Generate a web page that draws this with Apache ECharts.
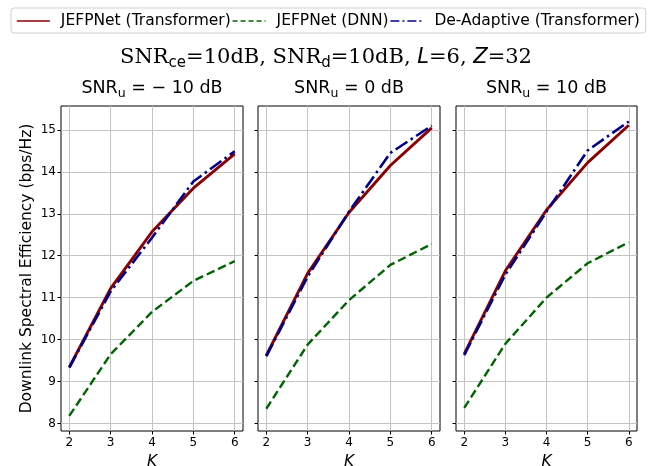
<!DOCTYPE html>
<html>
<head>
<meta charset="utf-8">
<script src="https://cdn.jsdelivr.net/npm/echarts@6/dist/echarts.min.js"></script>
<style>html,body{margin:0;padding:0;background:#fff;}#c{width:652px;height:466px;}</style>
</head>
<body>
<div id="c"></div>
<script>
var K = [2, 3, 4, 5, 6];
var xTicks = [2, 3, 4, 5, 6];
var yTicks = [8, 9, 10, 11, 12, 13, 14, 15];
var seriesNames = ['JEFPNet (Transformer)', 'JEFPNet (DNN)', 'De-Adaptive (Transformer)'];
var panelTitles = ['− 10', '0', '10'];

// Panel 1: SNR_u = -10 dB
var p1Trans = [9.34, 11.22, 12.57, 13.61, 14.43];
var p1Dnn   = [8.18, 9.65, 10.66, 11.40, 11.87];
var p1DeAd  = [9.33, 11.15, 12.43, 13.77, 14.49];
// Panel 2: SNR_u = 0 dB
var p2Trans = [9.62, 11.58, 13.03, 14.15, 15.05];
var p2Dnn   = [8.35, 9.88, 10.94, 11.78, 12.28];
var p2DeAd  = [9.60, 11.50, 13.05, 14.45, 15.10];
// Panel 3: SNR_u = 10 dB
var p3Trans = [9.66, 11.64, 13.09, 14.22, 15.11];
var p3Dnn   = [8.37, 9.90, 11.00, 11.82, 12.32];
var p3DeAd  = [9.63, 11.55, 13.05, 14.51, 15.20];

var panels = [[p1Trans, p1Dnn, p1DeAd], [p2Trans, p2Dnn, p2DeAd], [p3Trans, p3Dnn, p3DeAd]];

var gridLefts = [61, 258, 456];
var gridWidths = [182, 182, 181];
var styles = [
  {color: '#8b0000', width: 2.9, type: 'solid', legendType: 'solid'},
  {color: '#006400', width: 2.4, type: [8.5, 4], legendType: [5, 3]},
  {color: '#00008b', width: 2.6, type: [14, 4, 2.5, 4], legendType: [9, 3, 2, 3]}
];

var FONT = 'DejaVu Sans';
var grids = [], xAxes = [], yAxes = [], series = [], titles = [];

titles.push({
  left: 'center', top: 44, padding: 0,
  text: '{a|SNR}{s|ce}{a|=10dB, SNR}{s|d}{a|=10dB, }{i|L}{a|=6, }{i|Z}{a|=32}',
  textStyle: {
    fontWeight: 'normal',
    rich: {
      a: {fontFamily: 'DejaVu Serif', fontSize: 21, fontWeight: 'normal', color: '#000', lineHeight: 26},
      i: {fontFamily: FONT, fontStyle: 'italic', fontWeight: 'normal', fontSize: 21, color: '#000', lineHeight: 26},
      s: {fontFamily: FONT, fontSize: 15, fontWeight: 'normal', color: '#000', verticalAlign: 'bottom', lineHeight: 27}
    }
  }
});

for (var p = 0; p < 3; p++) {
  grids.push({left: gridLefts[p], top: 106, width: gridWidths[p], height: 325,
    containLabel: false, outerBoundsMode: 'none',
    show: true, borderColor: '#000', borderWidth: 1, backgroundColor: 'transparent'});
  titles.push({
    left: gridLefts[p] + gridWidths[p] / 2, textAlign: 'center', top: 77, padding: 0,
    text: '{a|SNR}{s|u}{a| = ' + panelTitles[p] + ' dB}',
    textStyle: {
      fontWeight: 'normal',
      rich: {
        a: {fontFamily: FONT, fontSize: 17.5, fontWeight: 'normal', color: '#000', lineHeight: 22},
        s: {fontFamily: FONT, fontSize: 12.5, fontWeight: 'normal', color: '#000', verticalAlign: 'bottom', lineHeight: 23}
      }
    }
  });
  xAxes.push({
    type: 'value', gridIndex: p, min: 1.8, max: 6.2,
    name: 'K', nameLocation: 'middle', nameGap: 19,
    nameTextStyle: {fontFamily: FONT, fontStyle: 'italic', fontSize: 15.5, color: '#000'},
    axisLine: {show: false},
    axisTick: {show: true, length: 3.5, lineStyle: {color: '#000', width: 1}, customValues: xTicks},
    axisLabel: {show: true, fontFamily: FONT, fontSize: 12, color: '#000', margin: 6, customValues: xTicks},
    splitLine: {show: true, lineStyle: {color: '#c4c4c4', width: 1}}
  });
  yAxes.push({
    type: 'value', gridIndex: p, min: 7.82, max: 15.57,
    name: p === 0 ? 'Downlink Spectral Efficiency (bps/Hz)' : '',
    nameLocation: 'middle', nameGap: 26,
    nameTextStyle: {fontFamily: FONT, fontSize: 15.5, color: '#000'},
    axisLine: {show: false},
    axisTick: {show: true, length: 3.5, lineStyle: {color: '#000', width: 1}, customValues: yTicks},
    axisLabel: {show: p === 0, fontFamily: FONT, fontSize: 12, color: '#000', margin: 5, customValues: yTicks},
    splitLine: {show: true, lineStyle: {color: '#c4c4c4', width: 1}}
  });
  for (var s = 0; s < 3; s++) {
    var vals = panels[p][s];
    var data = [];
    for (var i = 0; i < K.length; i++) data.push([K[i], vals[i]]);
    series.push({
      name: seriesNames[s], type: 'line', xAxisIndex: p, yAxisIndex: p,
      data: data, symbol: 'none', smooth: false, animation: false,
      lineStyle: {color: styles[s].color, width: styles[s].width, type: styles[s].type, cap: 'butt'},
      itemStyle: {color: styles[s].color}, z: 3 + s
    });
  }
}

var legendData = [];
for (var j = 0; j < 3; j++) {
  legendData.push({
    name: seriesNames[j],
    lineStyle: {width: 1.7, color: styles[j].color, type: styles[j].legendType},
    itemStyle: {opacity: 0}
  });
}

var chart = echarts.init(document.getElementById('c'), null, {renderer: 'canvas'});
chart.setOption({
  animation: false,
  backgroundColor: '#fff',
  title: titles,
  legend: {
    left: 11, top: 8, padding: [5, 6, 4, 5], itemGap: 1, itemWidth: 33, itemHeight: 14,
    backgroundColor: '#fff', borderColor: '#d0d0d0', borderWidth: 1, borderRadius: 3,
    itemStyle: {opacity: 0},
    data: legendData,
    textStyle: {fontFamily: FONT, fontSize: 15.5, color: '#000', padding: [0, 0, 0, 6]}
  },
  grid: grids, xAxis: xAxes, yAxis: yAxes, series: series
});
</script>
</body>
</html>
